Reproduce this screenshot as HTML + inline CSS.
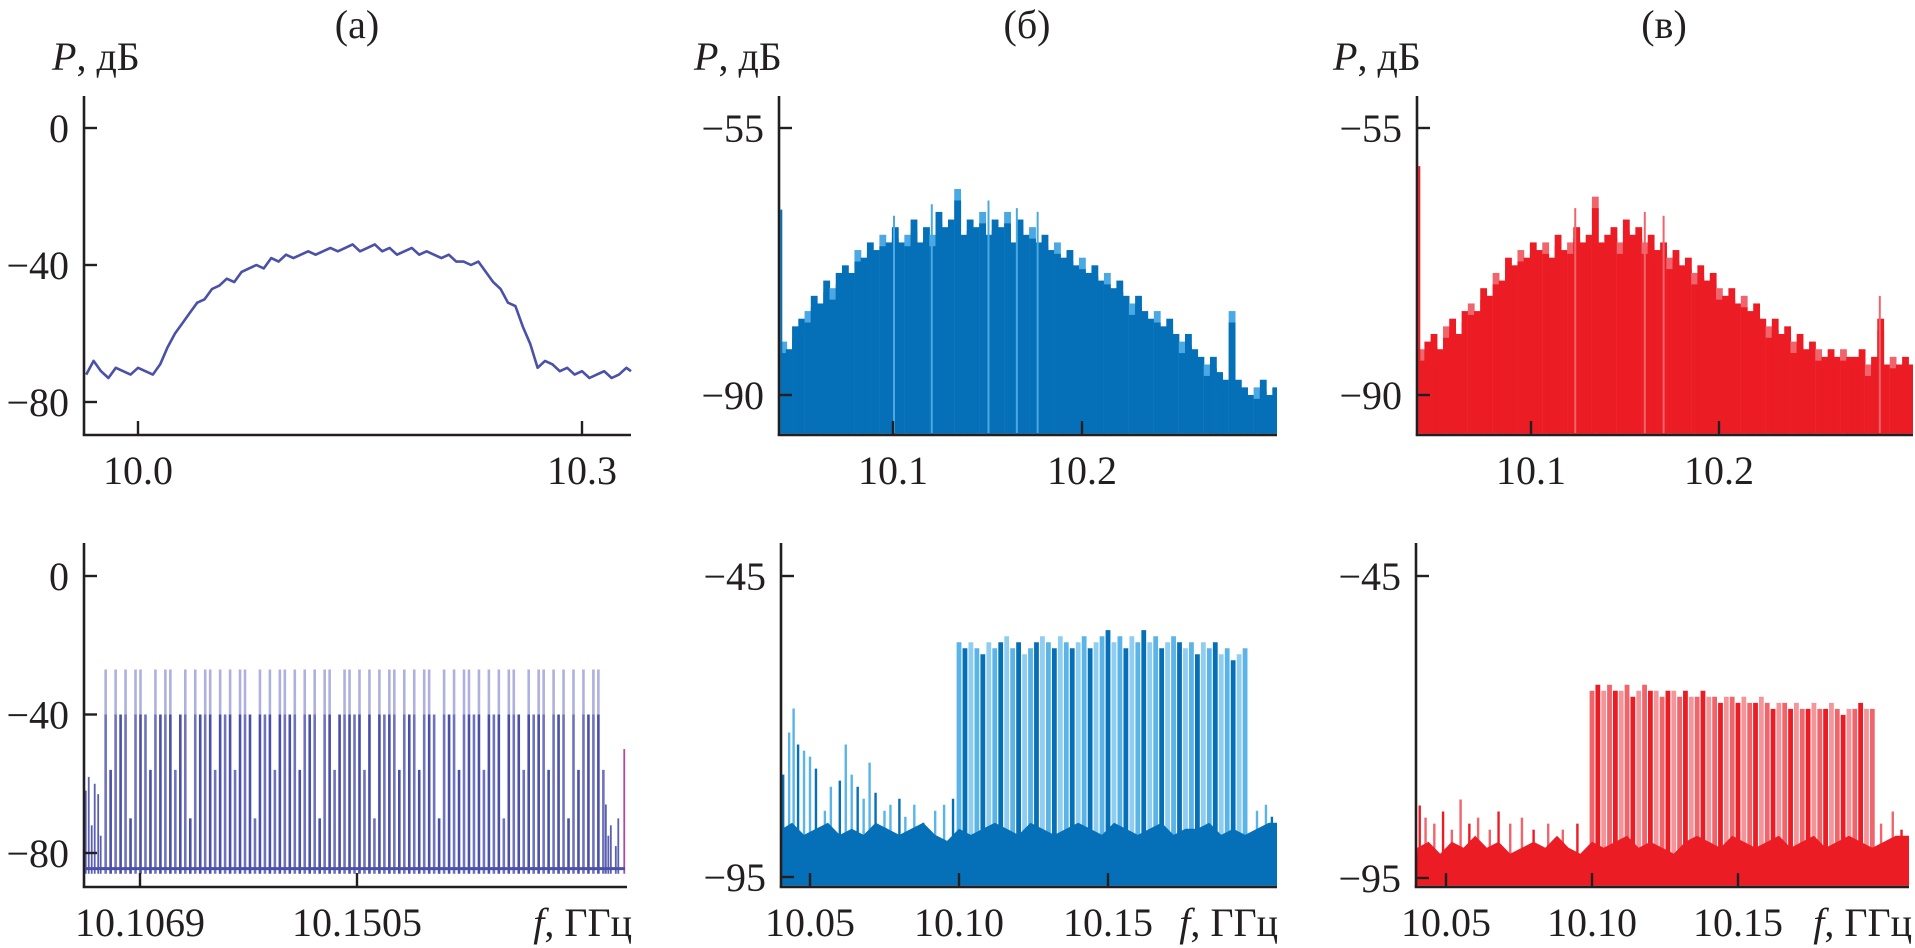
<!DOCTYPE html>
<html><head><meta charset="utf-8"><style>
html,body{margin:0;padding:0;background:#fff;}
svg{display:block;}
text{font-family:"Liberation Serif","DejaVu Serif",serif;}
</style></head><body>
<svg id="fig" width="1915" height="948" viewBox="0 0 1915 948" xmlns="http://www.w3.org/2000/svg" font-family="Liberation Serif, serif">
<text font-family="Liberation Serif, serif" x="357" y="38" font-size="40" text-anchor="middle" fill="#231f20">(а)</text>
<text font-family="Liberation Serif, serif" x="1027" y="38" font-size="40" text-anchor="middle" fill="#231f20">(б)</text>
<text font-family="Liberation Serif, serif" x="1664" y="38" font-size="40" text-anchor="middle" fill="#231f20">(в)</text>
<text font-family="Liberation Serif, serif" x="52" y="70" font-size="40" fill="#231f20"><tspan font-style="italic">P</tspan>, дБ</text>
<text font-family="Liberation Serif, serif" x="694" y="70" font-size="40" fill="#231f20"><tspan font-style="italic">P</tspan>, дБ</text>
<text font-family="Liberation Serif, serif" x="1333" y="70" font-size="40" fill="#231f20"><tspan font-style="italic">P</tspan>, дБ</text>
<text font-family="Liberation Serif, serif" x="632" y="936" font-size="40" text-anchor="end" fill="#231f20"><tspan font-style="italic">f</tspan>, ГГц</text>
<text font-family="Liberation Serif, serif" x="1278" y="936" font-size="40" text-anchor="end" fill="#231f20"><tspan font-style="italic">f</tspan>, ГГц</text>
<text font-family="Liberation Serif, serif" x="1912" y="936" font-size="40" text-anchor="end" fill="#231f20"><tspan font-style="italic">f</tspan>, ГГц</text>
</svg>
<script>
// ---------- data ----------
const aTopStart = 9.965;
const aTopStep = 0.005;
const aTopValues = [-72,-68,-71,-73,-70,-71,-72,-70,-71,-72,-69,-64,-60,-57,-54,-51,-50,-47,-46,-44,-45,-42,-41,-40,-41,-38,-39,-37,-38,-37,-36,-37,-36,-35,-36,-35,-34,-36,-35,-34,-36,-35,-37,-36,-35,-37,-36,-37,-38,-37,-39,-39,-40,-39,-42,-45,-47,-51,-52,-58,-63,-70,-68,-69,-71,-70,-72,-71,-73,-72,-71,-73,-72,-70,-71];
const aCombStart = 10.100;
const aCombStep = 0.001;
const aCombLevels = [-27,-56,-27,-40,-27,-70,-27,-27,-40,-56,-27,-40,-27,-27,-56,-40,-27,-70,-27,-40,
 -27,-27,-56,-27,-40,-27,-56,-27,-27,-40,-70,-27,-40,-27,-56,-27,-27,-40,-27,-56,
 -27,-40,-27,-70,-27,-27,-56,-40,-27,-27,-40,-27,-56,-27,-70,-27,-40,-27,-27,-56,
 -27,-40,-27,-56,-27,-27,-40,-70,-27,-40,-27,-56,-27,-27,-40,-27,-56,-27,-40,-27,
 -70,-27,-27,-40,-56,-27,-40,-27,-27,-56,-27,-40,-27,-70,-27,-56,-27,-40,-27,-27,-56];
const aFloorLevel = -84.5;
const aNoiseF = [10.0960,10.0966,10.0972,10.0978,10.0985,10.0990,10.2005,10.2010,10.2015,10.2025,10.2030,10.2042];
const aNoiseV = [-62,-58,-72,-60,-63,-75,-66,-75,-72,-78,-70,-50];

const bTopStart = 10.040;
const bTopStep = 0.0033;
const bTopValues = [-83,-84,-81,-80,-79,-77,-78,-75,-76,-74,
 -73,-74,-71,-72,-70,-71,-69,-70,-68,-70,
 -69,-67,-70,-68,-69,-66,-68,-67,-63,-69,
 -67,-68,-66,-69,-67,-68,-66,-70,-67,-69,
 -68,-70,-69,-71,-70,-72,-71,-73,-72,-74,
 -73,-75,-74,-76,-75,-77,-78,-77,-79,-80,
 -79,-81,-80,-82,-83,-82,-84,-85,-86,-85,
 -87,-88,-79,-88,-89,-90,-89,-88,-90,-89];
const bTopSpikeF = [10.0400,10.150,10.176,10.120,10.165,10.100];
const bTopSpikeV = [-65.7,-64.5,-66,-65,-65.5,-66.5];

const vTopStart = 10.040;
const vTopStep = 0.0033;
const vTopValues = [-84,-83,-82,-84,-81,-80,-82,-79,-78,-79,
 -76,-77,-74,-75,-72,-73,-71,-72,-70,-71,
 -70,-72,-69,-71,-70,-68,-70,-69,-64,-70,
 -69,-68,-70,-67,-69,-68,-70,-69,-71,-70,
 -72,-71,-73,-72,-74,-73,-75,-74,-76,-77,
 -76,-78,-77,-79,-78,-80,-81,-80,-82,-81,
 -83,-82,-84,-83,-84,-85,-84,-85,-84,-85,
 -85,-84,-86,-85,-80,-86,-85,-86,-85,-86];
const vTopSpikeF = [10.0400,10.123,10.160,10.170,10.285];
const vTopSpikeV = [-60,-65.5,-66,-66.5,-77];

const bCombStart = 10.100;
const bCombStep = 0.002;
const bCombValues = [-56,-57,-56,-57,-58,-56,-57,-56,-55,-57,-56,-58,-57,-56,-55,-56,-57,-55,-56,-57,-56,-55,-57,-56,-55,-54,-56,-55,-57,-55,-56,-54,-56,-55,-57,-56,-55,-56,-57,-56,-58,-56,-57,-56,-58,-57,-59,-58,-57];
const bFloorStart = 10.040;
const bFloorStep = 0.004;
const bFloorValues = [-87,-86,-88,-87,-86,-88,-87,-88,-86,-87,-88,-87,-86,-88,-89,-87,-88,-87,-86,-87,-88,-86,-87,-88,-87,-86,-87,-88,-86,-87,-88,-87,-86,-88,-87,-87,-86,-88,-87,-88,-87,-86];
const bNoiseF = [10.041,10.043,10.0445,10.046,10.048,10.050,10.052,10.055,10.057,10.060,10.062,10.064,10.066,10.068,10.070,10.072,10.075,10.077,10.080,10.082,10.085,10.088,10.092,10.095,10.098,10.200,10.203,10.205];
const bNoiseV = [-78,-71,-67,-73,-74,-75,-77,-84,-80,-79,-73,-78,-80,-82,-76,-81,-84,-83,-82,-85,-83,-86,-84,-83,-82,-84,-83,-85];

const vCombStart = 10.100;
const vCombStep = 0.002;
const vCombValues = [-64,-63,-64,-63,-64,-64,-63,-65,-64,-63,-64,-64,-65,-64,-64,-65,-64,-65,-65,-64,-65,-65,-66,-65,-65,-66,-65,-66,-66,-65,-66,-67,-66,-66,-67,-66,-67,-67,-66,-67,-67,-66,-67,-68,-67,-67,-66,-67,-67];
const vFloorStart = 10.040;
const vFloorStep = 0.004;
const vFloorValues = [-90,-89,-91,-89,-90,-88,-90,-89,-91,-90,-89,-90,-88,-90,-91,-89,-90,-89,-88,-90,-89,-90,-91,-89,-88,-89,-90,-88,-89,-90,-89,-88,-90,-89,-88,-90,-89,-88,-89,-90,-89,-88];
const vNoiseF = [10.041,10.043,10.046,10.049,10.052,10.055,10.058,10.061,10.065,10.068,10.072,10.076,10.080,10.085,10.090,10.095,10.199,10.203,10.206];
const vNoiseV = [-83,-85,-86,-84,-87,-82,-86,-85,-87,-84,-86,-85,-87,-86,-87,-86,-86,-84,-87];

const aTopYTicks = [0,-40,-80];
const aTopXTicks = [10.0,10.3];
const aTopXLabels = ["10.0","10.3"];
const aBotYTicks = [0,-40,-80];
const aBotXTicks = [10.1069,10.1505];
const aBotXLabels = ["10.1069","10.1505"];
const topYTicks = [-55,-90];
const topXTicks = [10.1,10.2];
const topXLabels = ["10.1","10.2"];
const botYTicks = [-45,-95];
const botXTicks = [10.05,10.10,10.15];
const botXLabels = ["10.05","10.10","10.15"];

// ---------- drawing ----------
const NS = "http://www.w3.org/2000/svg";
const svg = document.getElementById('fig');
const FONT = 'Liberation Serif, serif';
function lin(d0,p0,d1,p1){return v=>p0+(v-d0)*(p1-p0)/(d1-d0);}
function mk(tag, attrs, parent){const e=document.createElementNS(NS,tag);for(const k in attrs)e.setAttribute(k,attrs[k]);(parent||svg).appendChild(e);return e;}
function fmtMinus(v){return v<0?'\u2212'+Math.abs(v):String(v);}

function axes(p, name){
  const g = mk('g',{});
  
  
  const ya = mk('line',{x1:p.x0,y1:p.yTop,x2:p.x0,y2:p.yAx,stroke:'#231f20','stroke-width':2.6},g);
  
  
  const xa = mk('line',{x1:p.x0-1.3,y1:p.yAx,x2:p.x1,y2:p.yAx,stroke:'#231f20','stroke-width':2.6},g);
  
  
  p.yTicks.forEach(v=>{
    const y=p.ys(v);
    const t=mk('line',{x1:p.x0,y1:y,x2:p.x0+13,y2:y,stroke:'#231f20','stroke-width':2.4},g);
    
    
    const l=mk('text',{x:p.x0-15,y:y+14,'font-size':40,'font-family':FONT,'text-anchor':'end',fill:'#231f20'},g);
    l.textContent=fmtMinus(v);
    
    
  });
  p.xTicks.forEach((v,i)=>{
    const x=p.xs(v);
    const t=mk('line',{x1:x,y1:p.yAx,x2:x,y2:p.yAx-14,stroke:'#231f20','stroke-width':2.4},g);
    
    
    const l=mk('text',{x:x,y:p.yAx+49,'font-size':40,'font-family':FONT,'text-anchor':'middle',fill:'#231f20'},g);
    l.textContent=p.xLabels[i];
    
    
  });
}

const PA = {xs:lin(10.0,138,10.3,582), ys:lin(0,128,-80,402), x0:84, x1:631, yTop:96, yAx:435, yTicks:aTopYTicks, xTicks:aTopXTicks, xLabels:aTopXLabels};
const PA2 = {xs:lin(10.1069,140,10.1505,357), ys:lin(0,576,-80,853), x0:84, x1:627, yTop:543, yAx:887, yTicks:aBotYTicks, xTicks:aBotXTicks, xLabels:aBotXLabels};
const PB = {xs:lin(10.1,893,10.2,1082), ys:lin(-55,128,-90,395), x0:779, x1:1277, yTop:96, yAx:435, yTicks:topYTicks, xTicks:topXTicks, xLabels:topXLabels};
const PB2 = {xs:lin(10.05,810,10.10,959), ys:lin(-45,576,-95,877), x0:781, x1:1277, yTop:543, yAx:887, yTicks:botYTicks, xTicks:botXTicks, xLabels:botXLabels};
const PV = {xs:lin(10.1,1531,10.2,1719), ys:lin(-55,128,-90,395), x0:1417, x1:1913, yTop:96, yAx:435, yTicks:topYTicks, xTicks:topXTicks, xLabels:topXLabels};
const PV2 = {xs:lin(10.05,1446,10.10,1592), ys:lin(-45,576,-95,878), x0:1416, x1:1909, yTop:543, yAx:887, yTicks:botYTicks, xTicks:botXTicks, xLabels:botXLabels};

function clampX(p,x){return Math.max(p.x0+1.3,Math.min(p.x1,x));}

(function(){
  const pts = aTopValues.map((v,i)=>{const x=clampX(PA,PA.xs(aTopStart+i*aTopStep));return x.toFixed(1)+','+PA.ys(v).toFixed(1);}).join(' ');
  const pl = mk('polyline',{points:pts,fill:'none',stroke:'#4b50a8','stroke-width':2.6,'stroke-linejoin':'round'});
  
  
})();

(function(){
  const g = mk('g',{});
  
  
  const yf = PA2.ys(aFloorLevel-1.5);
  aNoiseF.forEach((f,i)=>{
    const x=PA2.xs(f);
    const l=mk('line',{x1:x,y1:yf,x2:x,y2:PA2.ys(aNoiseV[i]),stroke:i===aNoiseF.length-1?'#b04a9a':'#5a5fb2','stroke-width':1.8},g);
    
    
  });
  aCombLevels.forEach((v,i)=>{
    const x=PA2.xs(aCombStart+i*aCombStep);
    if(v>-40){
      const l1=mk('line',{x1:x,y1:PA2.ys(-40),x2:x,y2:PA2.ys(v),stroke:'#aeb0dd','stroke-width':2.6},g);
      
      
    }
    const l2=mk('line',{x1:x,y1:yf,x2:x,y2:PA2.ys(Math.min(v,-40)),stroke:(i%2? '#4a4fa8':'#6f73bd'),'stroke-width':2.6},g);
    
    
  });
  const fl=mk('line',{x1:PA2.x0+2,y1:PA2.ys(aFloorLevel),x2:PA2.x1-2,y2:PA2.ys(aFloorLevel),stroke:'#4a4fa8','stroke-width':3},g);
  
  
})();

function barSpectrum(p, start, step, vals, spF, spV, dark, light, name){
  const g = mk('g',{});
  
  
  const w = Math.abs(p.xs(start+step)-p.xs(start))+0.6;
  vals.forEach((v,i)=>{
    const x=clampX(p,p.xs(start+i*step));
    const y=p.ys(v);
    const r1=mk('rect',{x:x,y:y,width:Math.min(w,p.x1-x),height:p.yAx-y-1.3,fill:(i%4===0?light:dark)},g);
    
    
    const y2=p.ys(v-1.5);
    const r2=mk('rect',{x:x,y:y2,width:Math.min(w,p.x1-x),height:p.yAx-y2-1.3,fill:dark},g);
    
    
  });
  spF.forEach((f,i)=>{
    const x=clampX(p,p.xs(f))+1;
    const l=mk('line',{x1:x,y1:p.yAx-2,x2:x,y2:p.ys(spV[i]),stroke:i===0?dark:light,'stroke-width':2},g);
    
    
  });
}
barSpectrum(PB,bTopStart,bTopStep,bTopValues,bTopSpikeF,bTopSpikeV,'#0570b8','#4aa8e2','bar-spectrum-b-top');
barSpectrum(PV,vTopStart,vTopStep,vTopValues,vTopSpikeF,vTopSpikeV,'#ec1c24','#f0656b','bar-spectrum-v-top');

function combSpectrum(p, cStart, cStep, cVals, fStart, fStep, fVals, nF, nV, dark, light, light2, name){
  const g = mk('g',{});
  
  
  nF.forEach((f,i)=>{
    const x=clampX(p,p.xs(f));
    const l=mk('line',{x1:x,y1:p.yAx-2,x2:x,y2:p.ys(nV[i]),stroke:(i%3===0?dark:light),'stroke-width':2.4},g);
    
    
  });
  cVals.forEach((v,i)=>{
    const x=p.xs(cStart+i*cStep);
    const l=mk('line',{x1:x,y1:p.yAx-2,x2:x,y2:p.ys(v),stroke:(i%3===1?dark:(i%3===2?light2:light)),'stroke-width':4.8},g);
    
    
  });
  let d='M'+p.x0+','+(p.yAx-1.3);
  fVals.forEach((v,i)=>{const x=clampX(p,p.xs(fStart+i*fStep));d+=' L'+x.toFixed(1)+','+p.ys(v).toFixed(1);});
  d+=' L'+p.x1+','+p.ys(fVals[fVals.length-1]).toFixed(1)+' L'+p.x1+','+(p.yAx-1.3)+' Z';
  const a=mk('path',{d:d,fill:dark},g);
  
  
}
combSpectrum(PB2,bCombStart,bCombStep,bCombValues,bFloorStart,bFloorStep,bFloorValues,bNoiseF,bNoiseV,'#0570b8','#5ab4e8','#8fcdf1','comb-spectrum-b-bottom');
combSpectrum(PV2,vCombStart,vCombStep,vCombValues,vFloorStart,vFloorStep,vFloorValues,vNoiseF,vNoiseV,'#ec1c24','#f0646b','#f4959a','comb-spectrum-v-bottom');

axes(PA,'panel-a-top');
axes(PA2,'panel-a-bottom');
axes(PB,'panel-b-top');
axes(PB2,'panel-b-bottom');
axes(PV,'panel-v-top');
axes(PV2,'panel-v-bottom');
</script>
</body></html>
